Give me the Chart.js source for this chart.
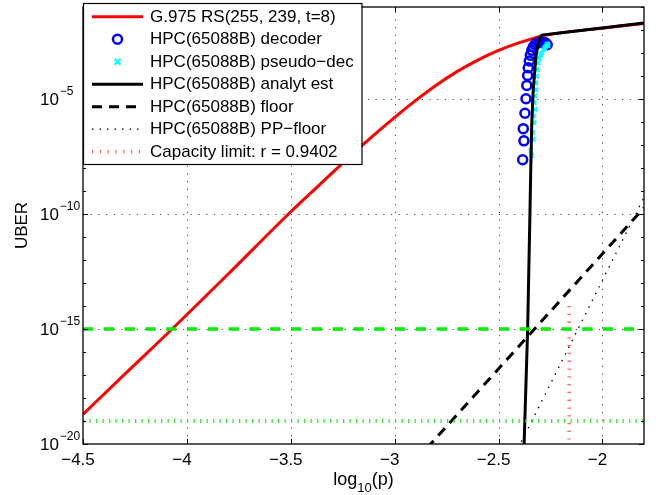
<!DOCTYPE html>
<html>
<head>
<meta charset="utf-8">
<script src="https://cdn.jsdelivr.net/npm/chart.js@4.4.1/dist/chart.umd.min.js"></script>
<style>
  html, body { margin: 0; padding: 0; background: #fff; }
  canvas { display: block; }
</style>
</head>
<body>
<canvas id="uberChart" width="662" height="495"></canvas>
<script>
// x values are log10(p), y values are log10(UBER)
const rsX = [-4.5, -4.3, -4.071, -3.8, -3.511, -3.358, -3.158, -3.0, -2.9, -2.8, -2.7, -2.6, -2.5, -2.4, -2.3, -2.285, -2.2, -2.0, -1.8];
const rsE = [-18.71, -16.97, -15.0, -12.6, -10.0, -8.70, -7.03, -5.80, -5.07, -4.40, -3.81, -3.31, -2.89, -2.55, -2.28, -2.24, -2.12, -1.92, -1.72];

const decoderX = [-2.384, -2.378, -2.381, -2.373, -2.368, -2.364, -2.360, -2.357, -2.352, -2.347, -2.340, -2.333, -2.325, -2.316, -2.305, -2.292, -2.280, -2.272, -2.266];
const decoderE = [-7.64, -6.82, -6.29, -5.62, -4.99, -4.41, -3.98, -3.64, -3.35, -3.10, -2.88, -2.74, -2.64, -2.58, -2.54, -2.53, -2.54, -2.58, -2.64];

const pseudoX = [-2.341, -2.345, -2.333, -2.336, -2.329, -2.333, -2.325, -2.328, -2.325, -2.320, -2.321, -2.316, -2.313, -2.309, -2.304, -2.298, -2.292, -2.285, -2.278, -2.272, -2.265, -2.262];
const pseudoE = [-7.46, -7.24, -6.75, -6.46, -6.03, -5.74, -5.45, -5.16, -4.87, -4.59, -4.30, -4.01, -3.72, -3.43, -3.22, -3.08, -3.0, -2.86, -2.78, -2.71, -2.60, -2.68];

const analytX = [-2.379, -2.377, -2.36, -2.349, -2.345, -2.340, -2.333, -2.320, -2.309, -2.301, -2.292, -2.156, -1.8];
const analytE = [-20.5, -20, -15, -10, -8.05, -6.03, -4.59, -3.14, -2.57, -2.34, -2.22, -2.08, -1.70];

const floorX = [-2.9, -1.8];
const floorE = [-20.73, -9.73];

const ppFloorX = [-2.39, -1.8];
const ppFloorE = [-19.9, -9.28];

const capacityX = [-2.16, -2.16];
const capacityE = [-14.0, -19.8];

const targetX = [-4.5, -1.8];
const targetE = [-15, -15];
const lowTargetX = [-4.5, -1.8];
const lowTargetE = [-19, -19];

const legendLabels = [
  'G.975 RS(255, 239, t=8)',
  'HPC(65088B) decoder',
  'HPC(65088B) pseudo\u2212dec',
  'HPC(65088B) analyt est',
  'HPC(65088B) floor',
  'HPC(65088B) PP\u2212floor',
  'Capacity limit: r = 0.9402'
];

const xTicks = [-4.5, -4, -3.5, -3, -2.5, -2];
const xTickLabels = ['\u22124.5', '\u22124', '\u22123.5', '\u22123', '\u22122.5', '\u22122'];
const yTickExps = [-20, -15, -10, -5];
const yTickLabels = ['\u221220', '\u221215', '\u221210', '\u22125'];

const FONT = "'Liberation Sans', Arial, Helvetica, sans-serif";

const toPoints = (xs, es) => xs.map((x, i) => ({ x: x, y: Math.pow(10, es[i]) }));

function lineSet(label, xs, es, color, width, dash, order) {
  return {
    label: label,
    data: toPoints(xs, es),
    showLine: true,
    borderColor: color,
    borderWidth: width,
    borderDash: dash,
    pointRadius: 0,
    fill: false,
    order: order
  };
}

const rsSet = lineSet(legendLabels[0], rsX, rsE, '#ff0000', 3, [], 8);
rsSet.cubicInterpolationMode = 'monotone';

const datasets = [
  rsSet,
  {
    label: legendLabels[1],
    data: toPoints(decoderX, decoderE),
    showLine: false,
    pointStyle: 'circle',
    pointRadius: 4.5,
    pointBorderWidth: 2.5,
    borderColor: '#0000ff',
    pointBorderColor: '#0000ff',
    pointBackgroundColor: 'rgba(0,0,0,0)',
    order: 7
  },
  {
    label: legendLabels[2],
    data: toPoints(pseudoX, pseudoE),
    showLine: false,
    pointStyle: 'crossRot',
    pointRadius: 3,
    pointBorderWidth: 2,
    borderColor: '#00ffff',
    pointBorderColor: '#00ffff',
    order: 6
  },
  lineSet(legendLabels[3], analytX, analytE, '#000000', 3, [], 5),
  lineSet(legendLabels[4], floorX, floorE, '#000000', 3, [10, 7], 4),
  lineSet(legendLabels[5], ppFloorX, ppFloorE, '#000000', 1.3, [1.5, 6], 3),
  lineSet(legendLabels[6], capacityX, capacityE, 'rgba(255,40,40,0.7)', 3.5, [1.3, 6.5], 2),
  lineSet('', targetX, targetE, '#00ee00', 3.5, [10.3, 10.5], 1),
  lineSet('', lowTargetX, lowTargetE, 'rgba(0,225,0,0.8)', 4, [1.3, 5.2], 0)
];

// dotted grid under the data
const gridPlugin = {
  id: 'dottedGrid',
  beforeDatasetsDraw(chart) {
    const ctx = chart.ctx, a = chart.chartArea;
    const x = chart.scales.x, y = chart.scales.y;
    ctx.save();
    ctx.strokeStyle = 'rgba(0,0,0,0.7)';
    ctx.lineWidth = 1;
    ctx.setLineDash([1.2, 6.5]);
    xTicks.forEach(v => {
      if (v === -4.5) return;
      const px = Math.round(x.getPixelForValue(v)) + 0.5;
      ctx.beginPath(); ctx.moveTo(px, a.bottom); ctx.lineTo(px, a.top); ctx.stroke();
    });
    yTickExps.forEach(e => {
      if (e === -20) return;
      const py = Math.round(y.getPixelForValue(Math.pow(10, e))) + 0.5;
      ctx.beginPath(); ctx.moveTo(a.left, py); ctx.lineTo(a.right, py); ctx.stroke();
    });
    ctx.restore();
  }
};

// box, ticks, labels and legend drawn MATLAB style
const framePlugin = {
  id: 'matlabFrame',
  afterDraw(chart) {
    const ctx = chart.ctx, a = chart.chartArea;
    const x = chart.scales.x, y = chart.scales.y;
    ctx.save();
    ctx.strokeStyle = '#000';
    ctx.lineWidth = 1.3;
    ctx.setLineDash([]);
    ctx.strokeRect(a.left, a.top, a.right - a.left, a.bottom - a.top);

    // inward ticks
    ctx.lineWidth = 1;
    xTicks.forEach(v => {
      const px = Math.round(x.getPixelForValue(v)) + 0.5;
      ctx.beginPath();
      ctx.moveTo(px, a.bottom); ctx.lineTo(px, a.bottom - 5);
      ctx.moveTo(px, a.top); ctx.lineTo(px, a.top + 5);
      ctx.stroke();
    });
    for (let e = -20; e <= -1; e++) {
      const py = Math.round(y.getPixelForValue(Math.pow(10, e))) + 0.5;
      const len = yTickExps.includes(e) ? 5 : 3;
      ctx.beginPath();
      ctx.moveTo(a.left, py); ctx.lineTo(a.left + len, py);
      ctx.moveTo(a.right, py); ctx.lineTo(a.right - len, py);
      ctx.stroke();
    }

    ctx.fillStyle = '#000';
    ctx.textBaseline = 'middle';

    // x tick labels
    ctx.font = '17px ' + FONT;
    ctx.textAlign = 'center';
    xTicks.forEach((v, i) => {
      ctx.fillText(xTickLabels[i], x.getPixelForValue(v) - 5, 460);
    });

    // y tick labels 10^e
    ctx.textAlign = 'left';
    yTickExps.forEach((e, i) => {
      const py = y.getPixelForValue(Math.pow(10, e));
      ctx.font = '17px ' + FONT;
      const baseW = ctx.measureText('10').width;
      ctx.fillText('10', 40, py + 1.5);
      ctx.font = '12px ' + FONT;
      ctx.fillText(yTickLabels[i], 40 + baseW + 0.8, py - 7.5);
    });

    // x title log10(p)
    ctx.font = '18px ' + FONT;
    const wLog = ctx.measureText('log').width;
    const wP = ctx.measureText('(p)').width;
    ctx.font = '13px ' + FONT;
    const wSub = ctx.measureText('10').width;
    let tx = (a.left + a.right) / 2 - (wLog + wSub + wP) / 2;
    ctx.font = '18px ' + FONT;
    ctx.fillText('log', tx, 480);
    ctx.font = '13px ' + FONT;
    ctx.fillText('10', tx + wLog, 488);
    ctx.font = '18px ' + FONT;
    ctx.fillText('(p)', tx + wLog + wSub, 480);

    // y title
    ctx.save();
    ctx.translate(22, (a.top + a.bottom) / 2);
    ctx.rotate(-Math.PI / 2);
    ctx.textAlign = 'center';
    ctx.font = '17px ' + FONT;
    ctx.fillText('UBER', 0, 0);
    ctx.restore();

    // legend
    const lx = a.left, ly = 3, lw = 278.5, lh = 161;
    ctx.fillStyle = '#fff';
    ctx.fillRect(lx, ly, lw, lh);
    ctx.strokeStyle = '#000';
    ctx.lineWidth = 1.2;
    ctx.strokeRect(lx + 0.5, ly + 0.5, lw, lh);
    legendLabels.forEach((label, i) => {
      const ds = chart.data.datasets[i];
      const ry = 16.7 + i * 22.5;
      ctx.save();
      if (ds.showLine) {
        ctx.strokeStyle = ds.borderColor;
        ctx.lineWidth = ds.borderWidth;
        ctx.setLineDash(ds.borderDash || []);
        ctx.beginPath(); ctx.moveTo(92, ry); ctx.lineTo(143, ry); ctx.stroke();
      } else if (ds.pointStyle === 'circle') {
        ctx.strokeStyle = ds.pointBorderColor;
        ctx.lineWidth = ds.pointBorderWidth;
        ctx.beginPath(); ctx.arc(117.5, ry, ds.pointRadius, 0, Math.PI * 2); ctx.stroke();
      } else {
        const r = ds.pointRadius;
        ctx.strokeStyle = ds.pointBorderColor;
        ctx.lineWidth = ds.pointBorderWidth;
        ctx.beginPath();
        ctx.moveTo(117.5 - r, ry - r); ctx.lineTo(117.5 + r, ry + r);
        ctx.moveTo(117.5 - r, ry + r); ctx.lineTo(117.5 + r, ry - r);
        ctx.stroke();
      }
      ctx.restore();
      ctx.fillStyle = '#000';
      ctx.font = '17px ' + FONT;
      ctx.textAlign = 'left';
      ctx.textBaseline = 'middle';
      ctx.fillText(label, 150, ry + 0.5);
    });
    ctx.restore();
  }
};

const chart = new Chart(document.getElementById('uberChart').getContext('2d'), {
  type: 'scatter',
  data: { datasets: datasets },
  options: {
    responsive: false,
    animation: false,
    devicePixelRatio: 1,
    layout: { padding: { left: 0, right: 18, top: 3, bottom: 0 } },
    plugins: { legend: { display: false }, tooltip: { enabled: false } },
    scales: {
      x: {
        type: 'linear',
        min: -4.5,
        max: -1.8,
        grid: { display: false },
        border: { display: false },
        ticks: { display: false },
        afterFit: s => { s.height = 51; }
      },
      y: {
        type: 'logarithmic',
        min: 1e-20,
        max: 1e-1,
        grid: { display: false },
        border: { display: false },
        ticks: { display: false },
        afterFit: s => { s.width = 83; }
      }
    }
  },
  plugins: [gridPlugin, framePlugin]
});
</script>
</body>
</html>
